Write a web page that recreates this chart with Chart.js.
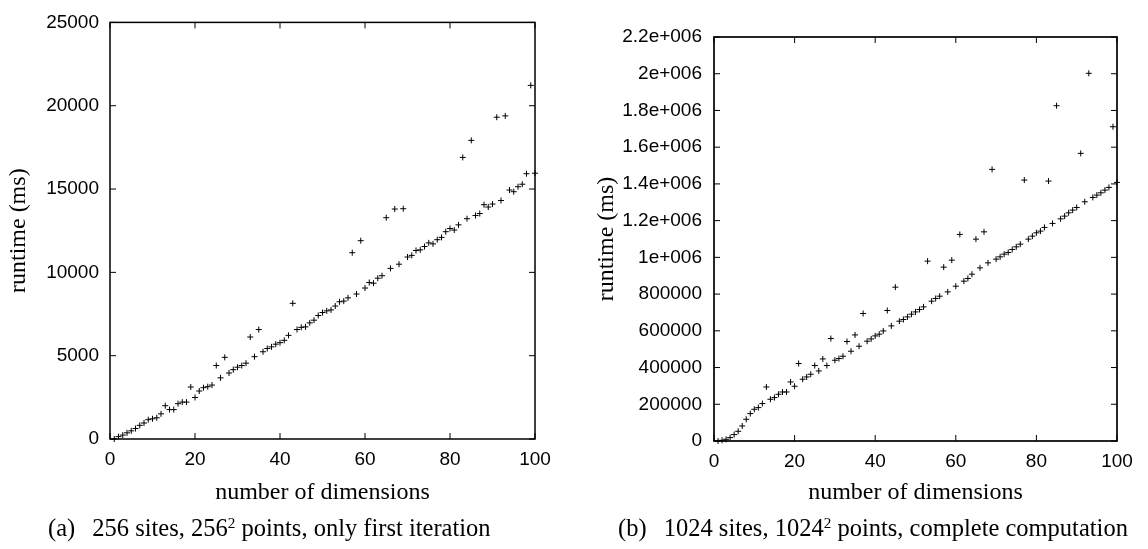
<!DOCTYPE html>
<html>
<head>
<meta charset="utf-8">
<script src="https://cdn.jsdelivr.net/npm/chart.js@4.4.1/dist/chart.umd.min.js"></script>
<style>
    html, body { margin: 0; padding: 0; background: #fff; }
    #wrap { position: relative; display: flex; width: 1148px; height: 549px; }
    canvas { display: block; }
    .caption {
        position: absolute;
        top: 515px;
        font-family: 'Liberation Serif', 'Times New Roman', serif;
        font-size: 24.5px;
        line-height: 26px;
        white-space: nowrap;
        color: #000;
    }
    .caption sup { font-size: 0.62em; line-height: 0; vertical-align: 0.55em; }
</style>
</head>
<body>
<div id="wrap">
    <canvas id="chartA" width="574" height="549"></canvas>
    <canvas id="chartB" width="574" height="549"></canvas>
    <div class="caption" style="left: 48px;">(a)&ensp;&thinsp;256 sites, 256<sup>2</sup> points, only first iteration</div>
    <div class="caption" style="left: 618px;">(b)&ensp;&thinsp;1024 sites, 1024<sup>2</sup> points, complete computation</div>
</div>
<script>
// number of dimensions (x values, shared by both plots)
const dims = [
    1, 2, 3, 4, 5, 6, 7, 8, 9, 10, 11, 12, 13, 14, 15, 16, 17, 18, 19, 20,
    21, 22, 23, 24, 25, 26, 27, 28, 29, 30, 31, 32, 33, 34, 35, 36, 37, 38, 39, 40,
    41, 42, 43, 44, 45, 46, 47, 48, 49, 50, 51, 52, 53, 54, 55, 56, 57, 58, 59, 60,
    61, 62, 63, 64, 65, 66, 67, 68, 69, 70, 71, 72, 73, 74, 75, 76, 77, 78, 79, 80,
    81, 82, 83, 84, 85, 86, 87, 88, 89, 90, 91, 92, 93, 94, 95, 96, 97, 98, 99, 100
];

// (a) 256 sites, only first iteration - runtime in ms
const runtimeA = [
    0, 140, 235, 370, 490, 630, 820, 960, 1160, 1215,
    1275, 1510, 2000, 1765, 1765, 2120, 2215, 2215, 3120, 2490,
    2880, 3080, 3140, 3235, 4410, 3670, 4900, 3960, 4160, 4310,
    4410, 4550, 6120, 4940, 6570, 5235, 5430, 5530, 5690, 5780,
    5920, 6220, 8140, 6570, 6700, 6730, 6970, 7130, 7410, 7590,
    7690, 7745, 7980, 8235, 8275, 8470, 11180, 8700, 11900, 9060,
    9390, 9350, 9650, 9800, 13280, 10240, 13800, 10490, 13820, 10920,
    11020, 11310, 11350, 11550, 11770, 11710, 11960, 12100, 12440, 12630,
    12540, 12850, 16900, 13220, 17920, 13410, 13530, 14060, 13920, 14100,
    19310, 14310, 19390, 14940, 14840, 15140, 15290, 15920, 21220, 15950
];

// (b) 1024 sites, complete computation - runtime in ms
const runtimeB = [
    0, 3800, 9300, 18500, 34900, 52900, 81900, 118300, 149300, 172800,
    182000, 203800, 294300, 227300, 236500, 254500, 267000, 267000, 321500, 298100,
    421800, 336300, 348800, 363500, 410900, 381500, 446900, 410900, 558000, 439800,
    449000, 461600, 541700, 488900, 577700, 516100, 694300, 543400, 555900, 572300,
    581500, 599500, 710700, 626800, 837700, 652400, 661600, 675800, 690500, 703000,
    716100, 730300, 979400, 761400, 776100, 788600, 946700, 812100, 984800, 843100,
    1124900, 870400, 885100, 908500, 1099300, 942900, 1139000, 970100, 1479100, 990300,
    1002800, 1017500, 1026800, 1043100, 1057300, 1072000, 1420800, 1099300, 1115600, 1133600,
    1142900, 1163000, 1415400, 1184800, 1825800, 1210000, 1224600, 1242600, 1257300, 1271700,
    1566300, 1302600, 2002300, 1326500, 1339100, 1351600, 1366300, 1381000, 1711300, 1408300
];

const xTicks = { min: 0, max: 100, step: 20 };
const yTicksA = { min: 0, max: 25000, step: 5000 };
const yTicksB = { min: 0, max: 2200000, step: 200000 };

Chart.defaults.font.family = "'Liberation Sans', Arial, sans-serif";
Chart.defaults.color = '#000';

const serif = "'Liberation Serif', 'Times New Roman', serif";

/**
 * Frame around the plot area with gnuplot-like inward ticks on all sides
 */
const frameTicks = {
    id: 'frameTicks',
    beforeDatasetsDraw(chart, args, opts) {
        const { ctx, chartArea: a, scales: { x, y } } = chart;
        const len = 6;
        ctx.save();
        ctx.strokeStyle = '#000';
        ctx.lineWidth = 1;
        ctx.beginPath();
        x.ticks.forEach(t => {
            const px = x.getPixelForValue(t.value);
            ctx.moveTo(px, a.bottom);
            ctx.lineTo(px, a.bottom - len);
            ctx.moveTo(px, a.top);
            ctx.lineTo(px, a.top + len);
        });
        y.ticks.forEach(t => {
            const py = y.getPixelForValue(t.value);
            ctx.moveTo(a.left, py);
            ctx.lineTo(a.left + len, py);
            ctx.moveTo(a.right, py);
            ctx.lineTo(a.right - len, py);
        });
        ctx.stroke();
        ctx.lineWidth = opts.width || 1.5;
        ctx.strokeRect(a.left, a.top, a.right - a.left, a.bottom - a.top);
        ctx.restore();
    }
};

// gnuplot style exponent labels: 1e+006, 1.2e+006 ...
function gnuplotExp(value) {
    if (value < 1000000) return String(Math.round(value));
    const m = Number((value / 1000000).toFixed(1));
    return m + 'e+006';
}

function buildChart(id, values, yRange, box) {
    const ctx = document.getElementById(id);
    const points = dims.map((d, i) => ({ x: d, y: values[i] }));

    return new Chart(ctx, {
        type: 'scatter',
        data: {
            datasets: [{
                data: points,
                pointStyle: 'cross',
                pointRadius: 3,
                pointBorderWidth: 1,
                borderColor: '#000',
                backgroundColor: '#000',
                clip: false
            }]
        },
        options: {
            responsive: false,
            animation: false,
            events: [],
            layout: {
                padding: { top: box.top, right: box.right, left: box.left, bottom: 38 }
            },
            plugins: {
                legend: { display: false },
                tooltip: { enabled: false },
                frameTicks: { width: box.frame }
            },
            scales: {
                x: {
                    type: 'linear',
                    min: xTicks.min,
                    max: xTicks.max,
                    afterFit: (scale) => { scale.height = box.xHeight; },
                    ticks: {
                        stepSize: xTicks.step,
                        padding: 9,
                        font: { size: 19 },
                        color: '#000'
                    },
                    grid: { display: false, drawTicks: false },
                    border: { display: false },
                    title: {
                        display: true,
                        text: 'number of dimensions',
                        color: '#000',
                        font: { family: serif, size: 24 },
                        padding: { top: 0, bottom: 4 }
                    }
                },
                y: {
                    type: 'linear',
                    min: yRange.min,
                    max: yRange.max,
                    afterFit: (scale) => { scale.width = box.yWidth; },
                    ticks: {
                        stepSize: yRange.step,
                        padding: box.yPad,
                        font: { size: 19 },
                        color: '#000',
                        callback: (value) => gnuplotExp(value)
                    },
                    grid: { display: false, drawTicks: false },
                    border: { display: false },
                    title: {
                        display: true,
                        text: 'runtime (ms)',
                        color: '#000',
                        font: { family: serif, size: 24 },
                        padding: { top: 0, bottom: 0 }
                    }
                }
            }
        },
        plugins: [frameTicks]
    });
}

buildChart('chartA', runtimeA, yTicksA,
    { top: 14, right: 39, left: 4, yWidth: 106, yPad: 11, xHeight: 72, frame: 1.5 });
buildChart('chartB', runtimeB, yTicksB,
    { top: 37, right: 31, left: 18, yWidth: 122, yPad: 12, xHeight: 70, frame: 1.7 });
</script>
</body>
</html>
